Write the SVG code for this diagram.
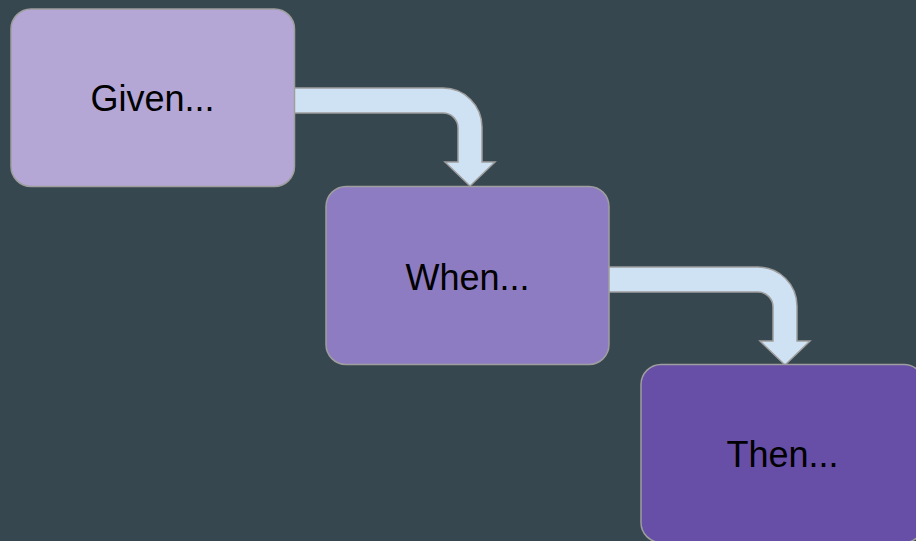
<svg xmlns="http://www.w3.org/2000/svg" width="916" height="541" viewBox="0 0 916 541">
<style>
.node rect{stroke:#9e9e9e;stroke-width:1.5}
.node text{font-family:"Liberation Sans",Arial,sans-serif;font-size:36px;fill:#000;text-anchor:middle}
.arrow{fill:#cfe2f3;stroke:#9e9e9e;stroke-width:1.5;stroke-linejoin:miter}
</style>
<defs>
<path id="bend" d="M 290 88 H 443 A 39 39 0 0 1 482 127 V 162 H 495 L 470 186 L 445 162 H 458 V 128 A 15 15 0 0 0 443 113 H 290 Z"/>
</defs>
<rect width="916" height="541" fill="#37474f"/>
<g id="connectors">
<use href="#bend" class="arrow"/>
<use href="#bend" class="arrow" transform="translate(315,179)"/>
</g>
<g id="given" class="node">
<rect x="11" y="9" width="283.5" height="177.5" rx="20" fill="#b4a7d6"/>
<text x="152.5" y="111">Given...</text>
</g>
<g id="when" class="node">
<rect x="326" y="186.5" width="283" height="178" rx="20" fill="#8e7cc3"/>
<text x="467.5" y="289.5">When...</text>
</g>
<g id="then" class="node">
<rect x="641" y="364.5" width="283" height="178" rx="20" fill="#674ea7"/>
<text x="782.5" y="467">Then...</text>
</g>
</svg>
